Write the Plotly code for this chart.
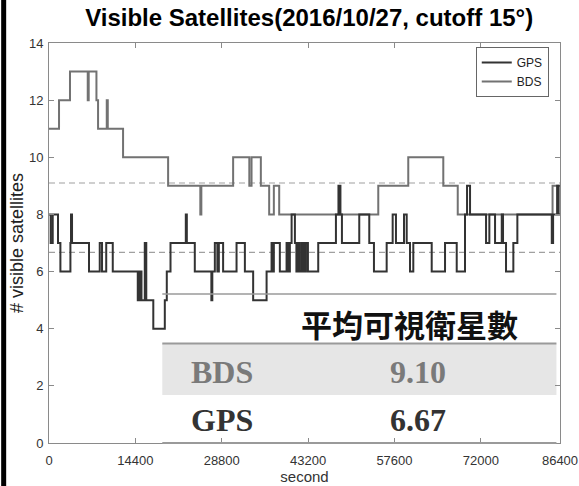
import plotly.graph_objects as go

# ---- data (seconds, number of visible satellites; step changes) ----
bds_t = [0, 1670, 3500, 6460, 6620, 7910, 8180, 9630, 9800, 12350, 19860, 25230, 25400,
         30700, 33400, 33770, 35320, 36710, 37490, 38380, 54900, 59900, 65740, 68150,
         83960, 85200]
bds_n = [11, 12, 13, 12, 13, 12, 11, 12, 11, 10, 9, 8, 9,
         10, 9, 10, 9, 8, 9, 8, 9, 10, 9, 8,
         9, 9]

gps_t = [0, 280, 620, 1500, 1900, 3570, 3670, 3840, 6670, 8460, 8840, 9540, 10630,
         14800, 15130, 15420, 15970, 16220, 17390, 19310, 19640, 20260, 22810, 22980,
         24310, 27070, 27230, 27650, 28070, 28320, 29030, 31270, 32660, 34040, 36280,
         37110, 37280, 37490, 38490, 39610, 39910, 40160, 40450, 41000, 41250, 41500,
         41830, 42170, 42500, 42830, 43170, 44890, 47840, 48260, 48590, 48840, 51730,
         53400, 54180, 56300, 57300, 57850, 59190, 59640, 60190, 60740, 63810, 66030,
         67980, 69360, 69700, 70200, 72870, 73420, 74370, 75490, 75700, 76200, 77420,
         78090, 83830, 84050, 84720, 84970, 85200]
gps_n = [8, 7, 8, 7, 6, 7, 8, 7, 6, 7, 6, 7, 6,
         5, 6, 5, 7, 5, 4, 5, 6, 7, 8, 7,
         6, 5, 6, 7, 6, 7, 6, 7, 6, 5, 6,
         7, 6, 7, 6, 7, 6, 7, 8, 7, 6, 7,
         6, 7, 6, 7, 6, 7, 8, 9, 8, 7, 8,
         7, 6, 7, 8, 7, 8, 7, 6, 7, 6, 7,
         6, 8, 9, 8, 7, 8, 7, 8, 7, 6, 7,
         8, 7, 8, 9, 8, 8]

systems = ["BDS", "GPS"]
mean_vals = [9.10, 6.67]
x_end = 85200
x_tickvals = [0, 14400, 28800, 43200, 57600, 72000, 85200]
x_ticktext = ["0", "14400", "28800", "43200", "57600", "72000", "86400"]
y_tickvals = [0, 2, 4, 6, 8, 10, 12, 14]

BDS_COLOR = "#727272"
GPS_COLOR = "#333333"
AX_COLOR = "#8a8a8a"
SANS = "Liberation Sans, Arial, sans-serif"
SERIF = "Liberation Serif, Times New Roman, serif"

fig = go.Figure()

# mean dashed lines
for m in mean_vals:
    fig.add_trace(go.Scatter(x=[0, x_end], y=[m, m], mode="lines",
                             line=dict(color="#a0a0a0", width=1.2, dash="6px,4px"),
                             showlegend=False, hoverinfo="skip"))

fig.add_trace(go.Scatter(x=bds_t, y=bds_n, mode="lines", name="BDS",
                         line=dict(color=BDS_COLOR, width=2, shape="hv"),
                         legendrank=2))
fig.add_trace(go.Scatter(x=gps_t, y=gps_n, mode="lines", name="GPS",
                         line=dict(color=GPS_COLOR, width=2, shape="hv"),
                         legendrank=1))

# table overlay (paper coordinates)
tx0, tx1 = 0.2217, 0.993
shapes = [
    dict(type="rect", xref="paper", yref="paper", x0=tx0, x1=tx1, y0=0.12, y1=0.249,
         fillcolor="#e6e6e6", line=dict(width=0), layer="below"),
    dict(type="line", xref="paper", yref="paper", x0=tx0, x1=tx1, y0=0.3725, y1=0.3725,
         line=dict(color="#9a9a9a", width=1.5)),
    dict(type="line", xref="paper", yref="paper", x0=tx0, x1=tx1, y0=0.249, y1=0.249,
         line=dict(color="#9a9a9a", width=2)),
    dict(type="line", xref="paper", yref="paper", x0=tx0, x1=tx1, y0=0.0, y1=0.0,
         line=dict(color="#9a9a9a", width=2)),
    # black bar on the far left edge of the image
    dict(type="rect", xref="paper", yref="paper", x0=-0.0936, x1=-0.0838, y0=-0.1075, y1=1.1075,
         fillcolor="#000000", line=dict(width=0)),
]

annotations = [
    dict(text="<b>平均可視衛星數</b>", xref="paper", yref="paper", x=0.706, y=0.30,
         showarrow=False, font=dict(family="Noto Sans CJK TC", size=31, color="#111111"),
         xanchor="center", yanchor="middle"),
]
row_y = [0.178, 0.0575]
row_col = ["#7a7a7a", "#333333"]
for name, m, yy, c in zip(systems, mean_vals, row_y, row_col):
    annotations.append(dict(text=f"<b>{name}</b>", xref="paper", yref="paper", x=0.3376, y=yy,
                            showarrow=False, font=dict(family=SERIF, size=32, color=c),
                            xanchor="center", yanchor="middle"))
    annotations.append(dict(text=f"<b>{m:.2f}</b>", xref="paper", yref="paper", x=0.722, y=yy,
                            showarrow=False, font=dict(family=SERIF, size=32, color=c),
                            xanchor="center", yanchor="middle"))

axis_common = dict(showline=True, linecolor=AX_COLOR, linewidth=1, mirror="ticks",
                   ticks="inside", ticklen=5, tickcolor=AX_COLOR, showgrid=False,
                   zeroline=False, automargin=False,
                   tickfont=dict(family=SANS, size=13, color="#333333"))

fig.update_layout(
    width=579, height=486,
    margin=dict(l=49, r=19, t=43, b=43),
    plot_bgcolor="white", paper_bgcolor="white",
    title=dict(text="<b>Visible Satellites(2016/10/27, cutoff 15°)</b>",
               x=0.534, xanchor="center", y=0.963, yanchor="middle",
               font=dict(family=SANS, size=24, color="#000000"), automargin=False),
    xaxis=dict(range=[0, x_end], tickvals=x_tickvals, ticktext=x_ticktext,
               ticklabelstandoff=5,
               title=dict(text="second", font=dict(family=SANS, size=15, color="#333333"),
                          standoff=4),
               **axis_common),
    yaxis=dict(range=[0, 14], tickvals=y_tickvals, ticklabelstandoff=2,
               title=dict(text="# visible satellites", font=dict(family=SANS, size=18, color="#222222"),
                          standoff=0),
               **axis_common),
    legend=dict(x=0.978, y=0.99, xanchor="right", yanchor="top",
                bgcolor="white", bordercolor="#666666", borderwidth=1,
                font=dict(family=SANS, size=12, color="#222222"),
                tracegroupgap=0, itemwidth=30),
    shapes=shapes, annotations=annotations,
    showlegend=True,
)

fig.write_html("out.html")
